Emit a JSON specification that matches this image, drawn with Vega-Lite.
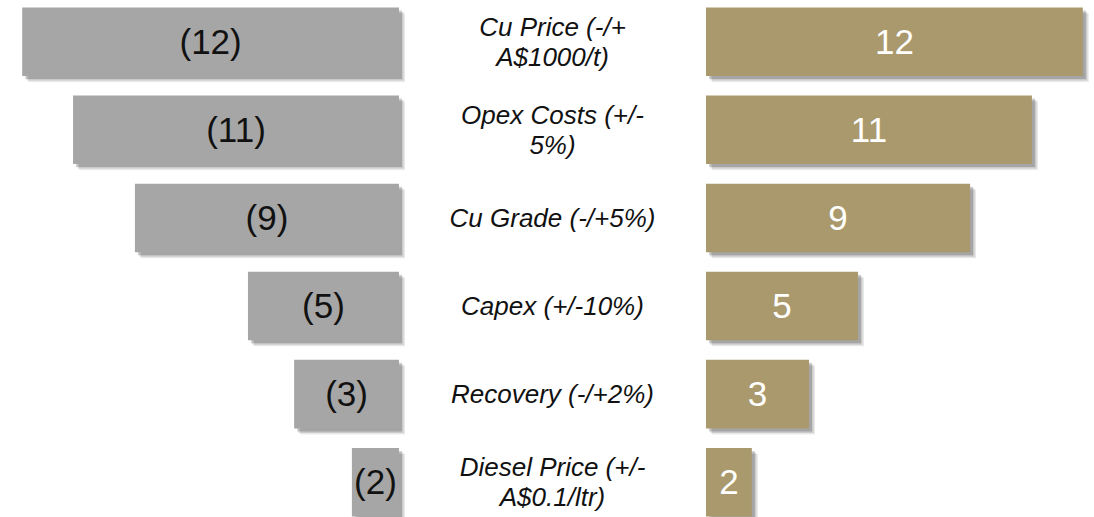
{
  "$schema": "https://vega.github.io/schema/vega-lite/v6.json",
  "padding": 0,
  "spacing": 0,
  "bounds": "flush",
  "background": "white",
  "config": {"view": {"stroke": null}, "concat": {"spacing": 0}},
  "datasets": {
    "t": [
      {"factor": "Cu Price", "desc": ["Cu Price (-/+", "A$1000/t)"], "low": 12.0, "high": 12.0, "lowLabel": "(12)", "highLabel": "12"},
      {"factor": "Opex Costs", "desc": ["Opex Costs (+/-", "5%)"], "low": 10.38, "high": 10.38, "lowLabel": "(11)", "highLabel": "11"},
      {"factor": "Cu Grade", "desc": "Cu Grade (-/+5%)", "low": 8.41, "high": 8.41, "lowLabel": "(9)", "highLabel": "9"},
      {"factor": "Capex", "desc": "Capex (+/-10%)", "low": 4.81, "high": 4.84, "lowLabel": "(5)", "highLabel": "5"},
      {"factor": "Recovery", "desc": "Recovery (-/+2%)", "low": 3.34, "high": 3.28, "lowLabel": "(3)", "highLabel": "3"},
      {"factor": "Diesel Price", "desc": ["Diesel Price (+/-", "A$0.1/ltr)"], "low": 1.50, "high": 1.46, "lowLabel": "(2)", "highLabel": "2"}
    ]
  },
  "data": {"name": "t"},
  "hconcat": [
    {
      "width": 399,
      "height": 517,
      "encoding": {
        "y": {"field": "factor", "type": "nominal", "axis": null,
              "scale": {"type": "band", "domain": ["Cu Price", "Opex Costs", "Cu Grade", "Capex", "Recovery", "Diesel Price"], "paddingInner": 0.222, "paddingOuter": 0.045, "align": 0.94}}
      },
      "layer": [
        {"mark": {"type": "bar", "color": "#000", "opacity": 0.09, "xOffset": 6, "yOffset": 6},
         "encoding": {"x": {"field": "low", "type": "quantitative", "axis": null, "scale": {"domain": [0, 12.707], "reverse": true, "nice": false}}}},
        {"mark": {"type": "bar", "color": "#000", "opacity": 0.13, "xOffset": 4.5, "yOffset": 4.5},
         "encoding": {"x": {"field": "low", "type": "quantitative", "axis": null, "scale": {"domain": [0, 12.707], "reverse": true, "nice": false}}}},
        {"mark": {"type": "bar", "color": "#000", "opacity": 0.18, "xOffset": 3, "yOffset": 3},
         "encoding": {"x": {"field": "low", "type": "quantitative", "axis": null, "scale": {"domain": [0, 12.707], "reverse": true, "nice": false}}}},
        {"mark": {"type": "bar", "color": "#A6A6A6"},
         "encoding": {"x": {"field": "low", "type": "quantitative", "axis": null, "scale": {"domain": [0, 12.707], "reverse": true, "nice": false}}}},
        {
          "layer": [
            {"mark": {"type": "text", "font": "Liberation Sans", "fontSize": 35, "color": "#111", "align": "center", "baseline": "middle", "dy": 1},
             "encoding": {
               "x": {"field": "low", "type": "quantitative", "axis": null, "scale": {"domain": [0, 25.414], "reverse": true, "nice": false}},
               "text": {"field": "lowLabel"}
             }}
          ]
        }
      ],
      "resolve": {"scale": {"x": "independent"}}
    },
    {
      "width": 307,
      "height": 517,
      "encoding": {
        "y": {"field": "factor", "type": "nominal", "axis": null,
              "scale": {"type": "band", "domain": ["Cu Price", "Opex Costs", "Cu Grade", "Capex", "Recovery", "Diesel Price"], "paddingInner": 0.222, "paddingOuter": 0.045, "align": 0.94}},
        "text": {"field": "desc"}
      },
      "layer": [
        {"transform": [{"filter": "!isArray(datum.desc)"}],
         "mark": {"type": "text", "font": "Liberation Sans", "fontStyle": "italic", "fontSize": 26, "lineHeight": 30, "color": "#111", "align": "center", "baseline": "middle", "dy": 1}},
        {"transform": [{"filter": "isArray(datum.desc)"}],
         "mark": {"type": "text", "font": "Liberation Sans", "fontStyle": "italic", "fontSize": 26, "lineHeight": 30, "color": "#111", "align": "center", "baseline": "middle", "dy": -14}}
      ]
    },
    {
      "width": 388,
      "height": 517,
      "encoding": {
        "y": {"field": "factor", "type": "nominal", "axis": null,
              "scale": {"type": "band", "domain": ["Cu Price", "Opex Costs", "Cu Grade", "Capex", "Recovery", "Diesel Price"], "paddingInner": 0.222, "paddingOuter": 0.045, "align": 0.94}}
      },
      "layer": [
        {"mark": {"type": "bar", "color": "#000", "opacity": 0.09, "xOffset": 6, "yOffset": 6},
         "encoding": {"x": {"field": "high", "type": "quantitative", "axis": null, "scale": {"domain": [0, 12.357], "nice": false}}}},
        {"mark": {"type": "bar", "color": "#000", "opacity": 0.13, "xOffset": 4.5, "yOffset": 4.5},
         "encoding": {"x": {"field": "high", "type": "quantitative", "axis": null, "scale": {"domain": [0, 12.357], "nice": false}}}},
        {"mark": {"type": "bar", "color": "#000", "opacity": 0.18, "xOffset": 3, "yOffset": 3},
         "encoding": {"x": {"field": "high", "type": "quantitative", "axis": null, "scale": {"domain": [0, 12.357], "nice": false}}}},
        {"mark": {"type": "bar", "color": "#AA996C"},
         "encoding": {"x": {"field": "high", "type": "quantitative", "axis": null, "scale": {"domain": [0, 12.357], "nice": false}}}},
        {
          "layer": [
            {"mark": {"type": "text", "font": "Liberation Sans", "fontSize": 35, "color": "#FFFFFF", "align": "center", "baseline": "middle", "dy": 1},
             "encoding": {
               "x": {"field": "high", "type": "quantitative", "axis": null, "scale": {"domain": [0, 24.714], "nice": false}},
               "text": {"field": "highLabel"}
             }}
          ]
        }
      ],
      "resolve": {"scale": {"x": "independent"}}
    }
  ]
}
